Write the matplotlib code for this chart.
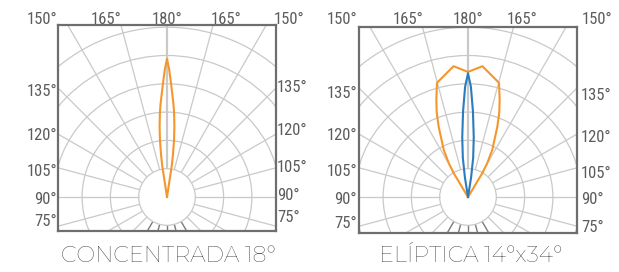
import matplotlib.pyplot as plt
import numpy as np
from matplotlib.patches import Circle

# --- data -----------------------------------------------------------------
# polar grid
ring_radii = [1, 2, 3, 4, 5, 6]
spoke_angles = np.arange(0, 360, 15)          # measured from the 180° (up) axis
top_labels = ['150°', '165°', '180°', '165°', '150°']
side_labels = ['135°', '120°', '105°', '90°', '75°']

# CONCENTRADA 18° : angle off beam axis (deg) / relative intensity
conc_gamma = [0, 1, 2, 3, 4, 4.8, 6, 7, 8, 8.7, 9]
conc_int = [4.88, 4.50, 4.03, 3.62, 3.28, 2.99, 2.50, 2.05, 1.52, 1.10, 0]

# ELÍPTICA 14°x34° : wide plane (orange) and narrow plane (blue)
elip_wide_gamma = [0, 6.3, 15.2, 18, 20.4, 22.6, 27.2, 29.6, 31, 31.5]
elip_wide_int = [4.42, 4.65, 4.18, 3.62, 3.17, 2.70, 1.88, 1.38, 0.98, 0]
elip_narrow_gamma = [0, 1.5, 3.3, 5.5, 7.5, 9, 10]
elip_narrow_int = [4.37, 3.90, 3.03, 2.12, 1.40, 0.70, 0]

titles = ['CONCENTRADA 18°', 'ELÍPTICA 14°x34°']

# --- style ----------------------------------------------------------------
W, H = 619, 272
UNIT = 28.3                      # pixels per ring
GRID = '#c9c9c9'
FRAME = '#6e6e6e'
LABEL = '#5c5c5c'
ORANGE = '#f5962a'
BLUE = '#2b7bbf'
LBL_FONT = ['Roboto Condensed', 'Asap Condensed', 'Archivo Narrow', 'DejaVu Sans']
TTL_FONT = ['Montserrat', 'Lato', 'DejaVu Sans']

fig = plt.figure(figsize=(W / 100, H / 100), dpi=100)


def curve_xy(gamma, inten):
    g = np.radians(np.concatenate([-np.array(gamma)[::-1], np.array(gamma)[1:]]))
    r = np.concatenate([np.array(inten)[::-1], np.array(inten)[1:]])
    return r * np.sin(g), r * np.cos(g)


def draw_panel(box, center, curves, title, lay):
    left, top, right, bottom = box
    cx, cy = center
    ax = fig.add_axes([left / W, 1 - bottom / H, (right - left) / W, (bottom - top) / H])
    ax.set_xlim((left - cx) / UNIT, (right - cx) / UNIT)
    ax.set_ylim((cy - bottom) / UNIT, (cy - top) / UNIT)
    ax.set_xticks([])
    ax.set_yticks([])
    for s in ax.spines.values():
        s.set_color(FRAME)
        s.set_linewidth(1.6)

    for a in spoke_angles:
        t = np.radians(a)
        col, lw = GRID, 0.9
        if abs(a - 180) <= 30:       # short spokes under the centre look darker
            col, lw = '#7a7a7a', 1.0
        if a == 0:
            lw = 1.6
        ax.plot([np.sin(t), 9 * np.sin(t)], [np.cos(t), 9 * np.cos(t)],
                color=col, lw=lw, zorder=1, solid_capstyle='butt')
    for r in ring_radii:
        ax.add_patch(Circle((0, 0), r, fill=False, ec=GRID, lw=0.9, zorder=1))

    for (g, i, c) in curves:
        x, y = curve_xy(g, i)
        ax.plot(x, y, color=c, lw=1.5, zorder=3)

    # labels in figure pixels
    for txt, dx in zip(top_labels, lay['top_x']):
        fig.text((cx + dx) / W, 1 - lay['top_y'] / H, txt, ha='center', va='center',
                 fontsize=12, color=LABEL, family=LBL_FONT)
    for txt, y in zip(side_labels, lay['left_y']):
        fig.text(lay['left_x'] / W, 1 - y / H, txt, ha='right', va='center',
                 fontsize=12, color=LABEL, family=LBL_FONT)
    for txt, y in zip(side_labels, lay['right_y']):
        fig.text(lay['right_x'] / W, 1 - y / H, txt, ha='left', va='center',
                 fontsize=12, color=LABEL, family=LBL_FONT)
    fig.text(lay['title_x'] / W, 1 - 256 / H, title, ha='center', va='center',
             fontsize=16, color='#2e2e2e', family=TTL_FONT, fontweight=300)


draw_panel((58, 25, 276, 231), (167, 197),
           [(conc_gamma, conc_int, ORANGE)], titles[0],
           dict(top_x=[-125, -61, 0, 59, 122], top_y=19,
                left_x=57, left_y=[92, 135, 172, 199, 221],
                right_x=277, right_y=[88, 130, 167, 195, 218], title_x=168))

draw_panel((359, 27, 577, 233), (468, 197),
           [(elip_wide_gamma, elip_wide_int, ORANGE),
            (elip_narrow_gamma, elip_narrow_int, BLUE)], titles[1],
           dict(top_x=[-126, -60, 0, 54, 129], top_y=20,
                left_x=357, left_y=[93, 135, 172, 199, 224],
                right_x=581, right_y=[95, 137, 173, 200, 227], title_x=471))

plt.savefig('out.png', dpi=100)
